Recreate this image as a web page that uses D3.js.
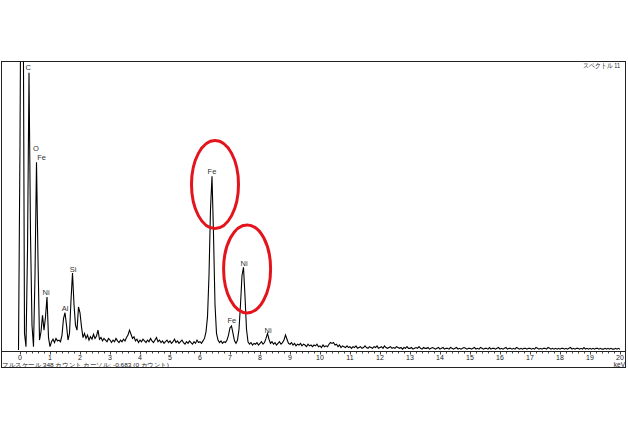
<!DOCTYPE html>
<html>
<head>
<meta charset="utf-8">
<script src="https://cdn.jsdelivr.net/npm/d3@7"></script>
<style>
  body { margin: 0; background: #fff; }
  text { font-family: "Liberation Sans", Arial, sans-serif; }
</style>
</head>
<body>
<svg id="chart" width="628" height="432"></svg>
<script>
// EDS spectrum, counts per 0.05 keV channel starting at -0.05 keV
const startKeV = -0.05;
const stepKeV = 0.05;
const counts = [
  0,
  250, 600, 500, 20, 4, 120, 335, 140, 30, 4, 90, 227, 110, 12, 22, 42, 24, 40, 64, 15,
  4, 10, 13, 9, 14, 11, 12, 10, 18, 38, 45, 30, 12, 20, 60, 93, 55, 30, 24, 52,
  45, 28, 15, 20, 14, 18, 12, 16, 13, 19, 14, 17, 24, 13, 15, 11, 14, 12, 10, 14,
  12, 9, 12, 10, 14, 11, 9, 12, 10, 13, 11, 15, 18, 24, 19, 14, 16, 11, 13, 9,
  12, 10, 13, 11, 9, 12, 10, 14, 11, 9, 12, 15, 10, 12, 9, 11, 8, 10, 12, 9,
  11, 8, 10, 13, 9, 11, 8, 10, 12, 9, 7, 10, 8, 11, 9, 7, 10, 8, 12, 9,
  10, 8, 11, 14, 22, 40, 90, 170, 210, 140, 55, 20, 12, 9, 11, 8, 10, 9, 12, 18,
  27, 29, 20, 11, 8, 12, 25, 55, 90, 100, 65, 25, 10, 7, 9, 6, 8, 7, 9, 6,
  8, 10, 7, 9, 14, 20, 13, 8, 10, 7, 9, 6, 8, 10, 7, 9, 12, 18, 13, 8,
  7, 9, 6, 8, 5, 7, 6, 8, 5, 7, 6, 4, 7, 5, 6, 4, 6, 5, 7, 4,
  5, 3, 6, 4, 5, 4, 7, 9, 8, 9, 6, 7, 4, 6, 3, 5, 4, 3, 5, 3,
  4, 2, 4, 3, 5, 2, 3, 4, 2, 3, 5, 3, 2, 4, 3, 2, 4, 3, 5, 2,
  3, 4, 2, 5, 3, 2, 3, 4, 2, 3, 2, 4, 3, 2, 3, 1, 3, 2, 4, 2,
  2, 3, 1, 2, 3, 2, 4, 2, 1, 3, 2, 2, 3, 1, 2, 3, 2, 1, 2, 3,
  1, 2, 3, 1, 2, 2, 1, 3, 2, 1, 2, 3, 1, 2, 1, 2, 3, 2, 1, 2,
  2, 1, 2, 3, 1, 2, 1, 3, 2, 1, 2, 2, 1, 3, 1, 2, 2, 1, 2, 3,
  1, 2, 1, 2, 3, 1, 2, 2, 1, 2, 1, 3, 2, 1, 2, 1, 2, 2, 1, 2,
  2, 1, 2, 1, 3, 2, 1, 2, 1, 2, 2, 1, 3, 2, 1, 2, 1, 2, 1, 2,
  1, 2, 2, 1, 2, 1, 2, 3, 1, 2, 1, 2, 2, 1, 2, 1, 3, 1, 2, 1,
  2, 1, 2, 1, 2, 2, 1, 2, 1, 1, 2, 1, 2, 1, 2, 1, 1, 2, 1, 2,
  1
];

// element labels
const peakNames = ["C", "O", "Fe", "Ni", "Al", "Si", "Fe", "Ni", "Fe", "Ni"];
const peakKeV = [0.27, 0.53, 0.72, 0.87, 1.5, 1.77, 6.4, 7.47, 7.06, 8.27];
const peakLabelCounts = [337, 239, 228, 65, 46, 93, 211, 100, 31, 19];

// red rings around Fe K-alpha and Ni K-alpha
const ringKeV = [6.5, 7.57];
const ringCounts = [200, 98];

const tickKeV = [0, 1, 2, 3, 4, 5, 6, 7, 8, 9, 10, 11, 12, 13, 14, 15, 16, 17, 18, 19, 20];
const minorTickKeV = d3.range(0, 100.5, 1).map(d => d * 0.2);

const fullScale = 348;
const footerText = "フルスケール 348 カウント カーソル: -0.683 (0 カウント)";
const titleText = "スペクトル 11";

var svg = d3.select("#chart");

var x = d3.scaleLinear().domain([0, 20]).range([20, 620]);
var y = d3.scaleLinear().domain([0, fullScale]).range([350, 62]);

svg.append("defs").append("clipPath")
    .attr("id", "plotClip")
  .append("rect")
    .attr("x", 1).attr("y", 61.5)
    .attr("width", 625).attr("height", 290);

// frame
svg.append("rect")
    .attr("x", 1.5).attr("y", 61.5)
    .attr("width", 624).attr("height", 306)
    .attr("fill", "none")
    .attr("stroke", "#222")
    .attr("stroke-width", 1);

// axis line + ticks
svg.append("line")
    .attr("x1", 1).attr("x2", 626)
    .attr("y1", 351.5).attr("y2", 351.5)
    .attr("stroke", "#222");

svg.append("g").selectAll("line")
    .data(minorTickKeV)
    .enter()
    .append("line")
    .attr("x1", d => Math.round(x(d)) + 0.5)
    .attr("x2", d => Math.round(x(d)) + 0.5)
    .attr("y1", 352)
    .attr("y2", d => Math.abs(d - Math.round(d)) < 1e-6 ? 354.5 : 353.5)
    .attr("stroke", "#444");

svg.append("g").selectAll("text")
    .data(tickKeV)
    .enter()
    .append("text")
    .attr("x", d => x(d))
    .attr("y", 359.5)
    .attr("text-anchor", "middle")
    .attr("font-size", "7px")
    .attr("fill", "#222")
    .text(d => d);

svg.append("text")
    .attr("x", 625).attr("y", 366.5)
    .attr("text-anchor", "end")
    .attr("font-size", "6.5px")
    .attr("fill", "#222")
    .text("keV");

svg.append("text")
    .attr("x", 2).attr("y", 366.5)
    .attr("font-family", "'Noto Sans CJK JP', sans-serif")
    .attr("font-size", "6px")
    .attr("fill", "#222")
    .attr("textLength", 167)
    .attr("lengthAdjust", "spacingAndGlyphs")
    .text(footerText);

svg.append("text")
    .attr("x", 620).attr("y", 68)
    .attr("text-anchor", "end")
    .attr("font-family", "'Noto Sans CJK JP', sans-serif")
    .attr("font-size", "6.5px")
    .attr("fill", "#222")
    .attr("textLength", 37)
    .attr("lengthAdjust", "spacingAndGlyphs")
    .text(titleText);

// spectrum
var line = d3.line()
    .x((d, i) => x(startKeV + i * stepKeV))
    .y(d => y(d));

svg.append("path")
    .datum(counts)
    .attr("clip-path", "url(#plotClip)")
    .attr("fill", "none")
    .attr("stroke", "#000")
    .attr("stroke-width", 1.1)
    .attr("stroke-linejoin", "miter")
    .attr("d", line);

// element labels
svg.append("g").selectAll("text")
    .data(peakNames)
    .enter()
    .append("text")
    .attr("x", (d, i) => x(peakKeV[i]))
    .attr("y", (d, i) => y(peakLabelCounts[i]) - 1)
    .attr("text-anchor", "middle")
    .attr("font-size", "7.5px")
    .attr("fill", "#333")
    .text(d => d);

// red rings
svg.append("g").selectAll("ellipse")
    .data(ringKeV)
    .enter()
    .append("ellipse")
    .attr("cx", d => x(d))
    .attr("cy", (d, i) => y(ringCounts[i]))
    .attr("rx", 23.5)
    .attr("ry", 44)
    .attr("fill", "none")
    .attr("stroke", "#e3141c")
    .attr("stroke-width", 3);
</script>
</body>
</html>
